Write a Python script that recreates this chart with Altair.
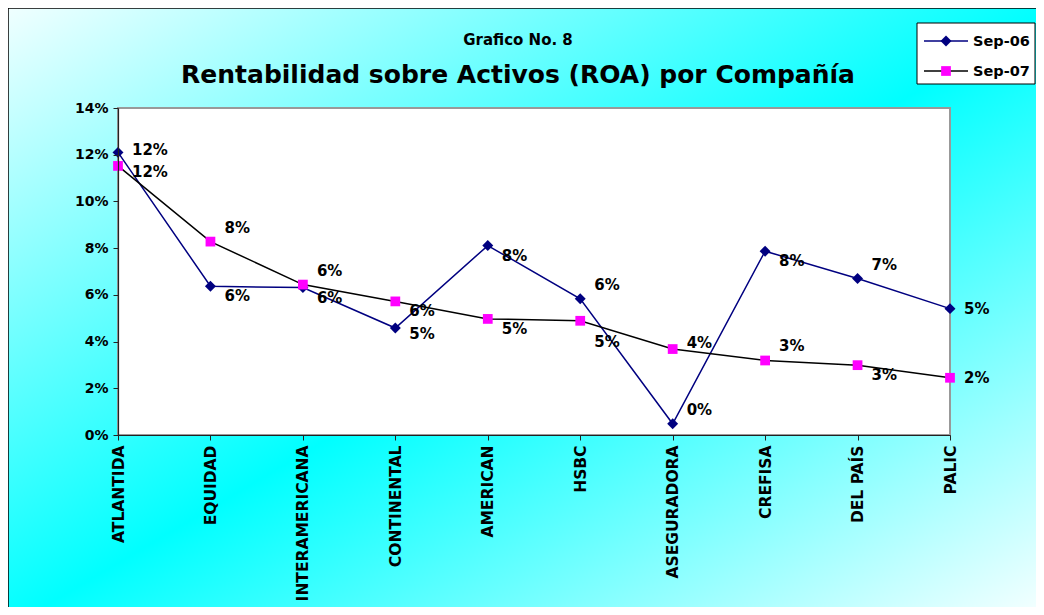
import altair as alt
import pandas as pd

# ---------------- data ----------------
companies = ["ATLANTIDA", "EQUIDAD", "INTERAMERICANA", "CONTINENTAL", "AMERICAN",
             "HSBC", "ASEGURADORA", "CREFISA", "DEL PAÍS", "PALIC"]
series_names = ["Sep-06", "Sep-07"]
roa_sep06 = [12.10, 6.37, 6.31, 4.58, 8.11, 5.83, 0.48, 7.87, 6.70, 5.41]
roa_sep07 = [11.52, 8.28, 6.44, 5.72, 4.97, 4.89, 3.68, 3.19, 2.99, 2.45]
y_ticks = [0, 2, 4, 6, 8, 10, 12, 14]
title_small = "Grafico No. 8"
title_main = "Rentabilidad sobre Activos (ROA) por Compañía"

# label placement relative to each point (categorical)
place_sep06 = ["rhigh2", "below", "below", "rlow", "below", "above", "above", "below", "above", "right"]
place_sep07 = ["rlow", "above", "above", "below", "below", "low", "rhigh", "above", "below", "right"]

# ---------------- styling ----------------
FONT = "DejaVu Sans"
W, H = 832, 327
line_colors = ["#000080", "#000000"]
marker_colors = ["#000080", "#FF00FF"]
marker_shapes = ["diamond", "square"]
place_dy = {"above": -14, "rhigh": -6, "rhigh2": -2, "right": 0, "rlow": 6, "below": 10, "low": 21}

rows = []
for s, vals, places in [(series_names[0], roa_sep06, place_sep06),
                        (series_names[1], roa_sep07, place_sep07)]:
    for i, (c, v, p) in enumerate(zip(companies, vals, places)):
        rows.append({"company": c, "series": s, "value": v, "place": p, "idx": i})
df = pd.DataFrame(rows)
one = pd.DataFrame({"k": [0]})

x_enc = alt.X("company:N", sort=companies,
              scale=alt.Scale(type="point", padding=0),
              axis=alt.Axis(title=None, labelAngle=270, labelAlign="right", labelBaseline="middle",
                            labelFont=FONT, labelFontWeight="bold", labelFontSize=15.5,
                            labelColor="black", domainColor="#222222", domainWidth=1.2,
                            tickColor="#222222", tickSize=5, labelPadding=5, zindex=1))
y_enc = alt.Y("value:Q", scale=alt.Scale(domain=[0, 14], nice=False),
              axis=alt.Axis(title=None, values=y_ticks, labelExpr="datum.value + '%'",
                            grid=False, labelFont=FONT, labelFontWeight="bold", labelFontSize=14,
                            labelColor="black", domainColor="#222222", domainWidth=1.2,
                            tickColor="#222222", tickSize=5, labelPadding=5, zindex=1))

grad = alt.Gradient(gradient="linear",
                    stops=[alt.GradientStop(color="#F0FFFF", offset=0),
                           alt.GradientStop(color="#00FFFF", offset=0.5),
                           alt.GradientStop(color="#FFFFFF", offset=1)],
                    x1=0, y1=0, x2=1, y2=1)

bg = alt.Chart(one).mark_rect(fill=grad, stroke="black", strokeWidth=1.5).encode(
    x=alt.value(-110), x2=alt.value(940), y=alt.value(-100), y2=alt.value(520))
plot_bg = alt.Chart(one).mark_rect(fill="white", stroke="#999999", strokeWidth=2).encode(
    x=alt.value(0), x2=alt.value(W), y=alt.value(0), y2=alt.value(H))

lines = alt.Chart(df).mark_line(strokeWidth=1.5).encode(
    x=x_enc, y=y_enc,
    color=alt.Color("series:N", scale=alt.Scale(domain=series_names, range=line_colors), legend=None),
    order=alt.Order("idx:Q"))
points = alt.Chart(df).mark_point(filled=True, opacity=1, strokeWidth=0).encode(
    x=x_enc, y=y_enc,
    shape=alt.Shape("series:N", scale=alt.Scale(domain=series_names, range=marker_shapes), legend=None),
    fill=alt.Fill("series:N", scale=alt.Scale(domain=series_names, range=marker_colors), legend=None),
    size=alt.condition("datum.series == 'Sep-06'", alt.value(120), alt.value(95)))

label_layers = []
for p, dy in place_dy.items():
    label_layers.append(
        alt.Chart(df).transform_filter(alt.datum.place == p)
        .transform_calculate(lab="format(datum.value, '.0f') + '%'")
        .mark_text(align="left", baseline="middle", dx=14, dy=dy, font=FONT,
                   fontWeight="bold", fontSize=15, color="black")
        .encode(x=x_enc, y=y_enc, text="lab:N"))

# titles
t_small = alt.Chart(one).mark_text(text=title_small, font=FONT, fontWeight="bold", fontSize=15,
                                   align="center", baseline="alphabetic", color="black").encode(
    x=alt.value(400), y=alt.value(-63))
t_main = alt.Chart(one).mark_text(text=title_main, font=FONT, fontWeight="bold", fontSize=25,
                                  align="center", baseline="alphabetic", color="black").encode(
    x=alt.value(400), y=alt.value(-25))

# legend
leg_box = alt.Chart(one).mark_rect(fill="white", stroke="black", strokeWidth=1).encode(
    x=alt.value(799), x2=alt.value(917), y=alt.value(-85), y2=alt.value(-24))
leg_layers = [leg_box]
for s, lc, mc, sh, sz, yy in zip(series_names, line_colors, marker_colors, marker_shapes,
                                 [120, 95], [-67, -37]):
    leg_layers.append(alt.Chart(one).mark_rule(color=lc, strokeWidth=1.5).encode(
        x=alt.value(806), x2=alt.value(850), y=alt.value(yy)))
    leg_layers.append(alt.Chart(one).mark_point(shape=sh, filled=True, fill=mc, opacity=1,
                                                strokeWidth=0, size=sz).encode(
        x=alt.value(828), y=alt.value(yy)))
    leg_layers.append(alt.Chart(one).mark_text(text=s, font=FONT, fontWeight="bold", fontSize=14.5,
                                               align="left", baseline="middle", color="black").encode(
        x=alt.value(855), y=alt.value(yy + 1)))

chart = alt.layer(bg, plot_bg, lines, points, *label_layers, t_small, t_main, *leg_layers).properties(
    width=W, height=H,
    padding={"left": 110, "top": 100, "right": 86, "bottom": 172},
    autosize=alt.AutoSizeParams(type="none"),
    background="white",
).configure_view(strokeWidth=0)

chart.save("out.html", embed_options={"renderer": "svg", "actions": False})
